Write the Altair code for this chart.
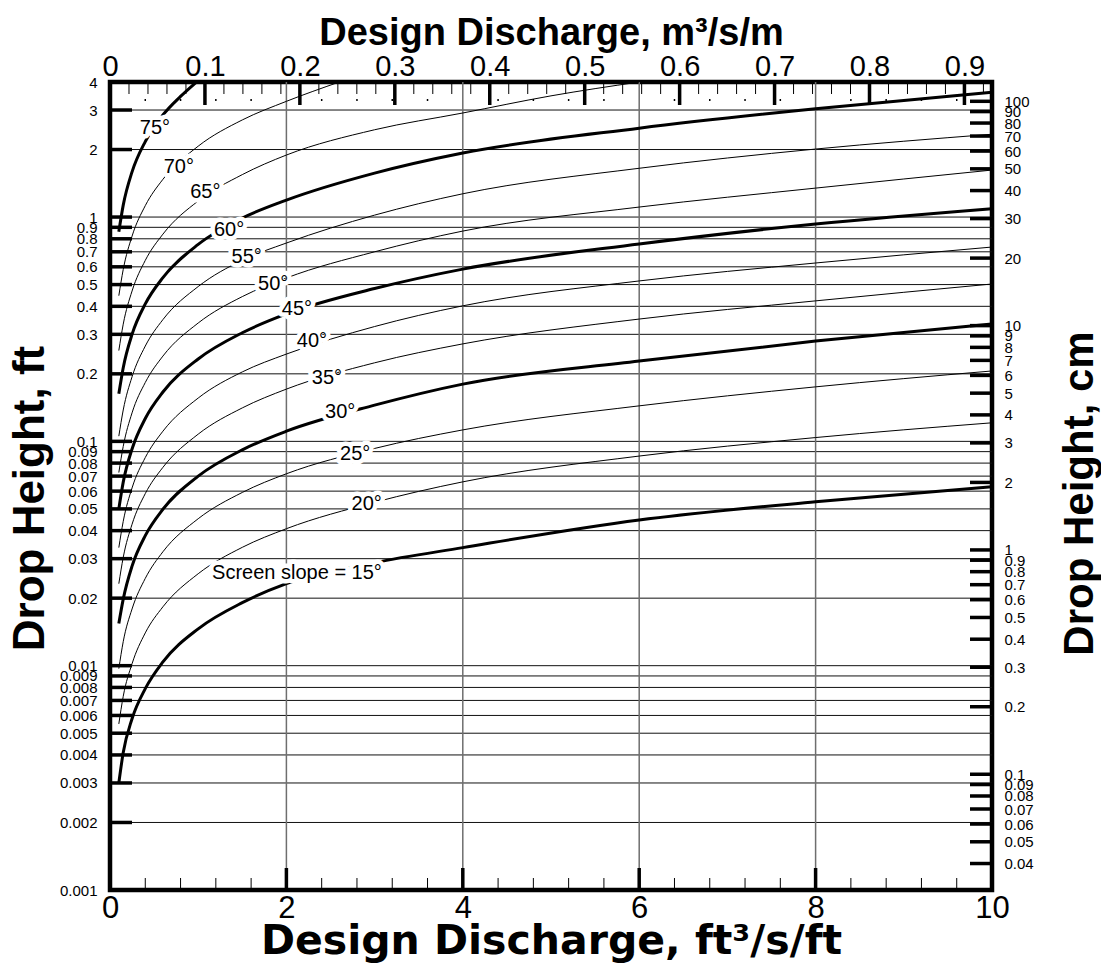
import altair as alt
import pandas as pd

# ---------------- data ----------------
# design discharge, ft^3/s/ft
Q_COMMON = [0.1, 0.15, 0.25, 0.4, 0.6, 1.0, 1.5, 2, 3, 4, 6, 8, 10]
H15 = [0.0030, 0.0041, 0.0058, 0.0079, 0.0104, 0.0146, 0.0191, 0.0232, 0.0288, 0.0336, 0.0446, 0.0538, 0.0627]
H20 = [0.0055, 0.0073, 0.0102, 0.0140, 0.0183, 0.0257, 0.0337, 0.0408, 0.0535, 0.066, 0.086, 0.104, 0.121]
H25 = [0.0097, 0.0128, 0.0179, 0.0245, 0.0322, 0.0452, 0.0592, 0.0717, 0.093, 0.1125, 0.144, 0.175, 0.206]
H30 = [0.0154, 0.0198, 0.0278, 0.038, 0.0498, 0.070, 0.0917, 0.111, 0.145, 0.180, 0.228, 0.280, 0.334]
H35 = [0.0232, 0.0304, 0.0427, 0.0585, 0.0766, 0.1077, 0.141, 0.171, 0.224, 0.272, 0.351, 0.423, 0.503]
H40 = [0.0336, 0.044, 0.062, 0.0847, 0.111, 0.156, 0.204, 0.245, 0.325, 0.402, 0.519, 0.624, 0.735]
H45 = [0.050, 0.0658, 0.0925, 0.1265, 0.166, 0.233, 0.305, 0.370, 0.480, 0.586, 0.758, 0.931, 1.09]
H50 = [0.0726, 0.095, 0.134, 0.183, 0.240, 0.337, 0.442, 0.535, 0.70, 0.866, 1.108, 1.346, 1.62]
H55 = [0.1055, 0.138, 0.194, 0.266, 0.349, 0.49, 0.642, 0.766, 1.02, 1.27, 1.65, 2.01, 2.34]
H60 = [0.163, 0.213, 0.30, 0.41, 0.537, 0.755, 0.99, 1.19, 1.57, 1.93, 2.49, 3.04, 3.60]
Q65 = [0.1, 0.15, 0.25, 0.4, 0.6, 1.0, 1.5, 2, 3, 4, 5, 6.0]
H65 = [0.254, 0.333, 0.468, 0.641, 0.839, 1.18, 1.546, 1.89, 2.45, 2.91, 3.47, 4.0]
Q70 = [0.1, 0.15, 0.25, 0.4, 0.6, 1.0, 1.5, 2, 2.6]
H70 = [0.446, 0.584, 0.822, 1.124, 1.473, 2.07, 2.71, 3.28, 4.0]
Q75 = [0.1, 0.15, 0.25, 0.4, 0.6, 0.8, 0.98]
H75 = [0.86, 1.13, 1.59, 2.17, 2.85, 3.45, 4.0]

THICK_ANGLES = [15, 30, 45, 60, 75]

LABEL_TEXT = ["75°", "70°", "65°", "60°", "55°", "50°", "45°", "40°", "35°", "30°", "25°", "20°",
              "Screen slope = 15°"]
LABEL_Q = [0.51, 0.78, 1.08, 1.35, 1.55, 1.85, 2.12, 2.29, 2.46, 2.61, 2.78, 2.91, 2.12]
LABEL_H = [2.49, 1.68, 1.29, 0.88, 0.661, 0.501, 0.388, 0.279, 0.191, 0.135, 0.0875, 0.0524, 0.0258]

X_LABELS = [0, 2, 4, 6, 8, 10]
V_GRID = [2, 4, 6, 8]
X_MINOR = [0.4, 0.8, 1.2, 1.6, 2.4, 2.8, 3.2, 3.6, 4.4, 4.8, 5.2, 5.6,
           6.4, 6.8, 7.2, 7.6, 8.4, 8.8, 9.2, 9.6]

LEFT_LABELS = [0.001, 0.002, 0.003, 0.004, 0.005, 0.006, 0.007, 0.008, 0.009,
               0.01, 0.02, 0.03, 0.04, 0.05, 0.06, 0.07, 0.08, 0.09,
               0.1, 0.2, 0.3, 0.4, 0.5, 0.6, 0.7, 0.8, 0.9, 1, 2, 3, 4]
H_GRID = [0.002, 0.003, 0.004, 0.005, 0.006, 0.007, 0.008, 0.009,
          0.01, 0.02, 0.03, 0.04, 0.05, 0.06, 0.07, 0.08, 0.09,
          0.1, 0.2, 0.3, 0.4, 0.5, 0.6, 0.7, 0.8, 0.9, 1, 2, 3]

RIGHT_LABELS = [0.04, 0.05, 0.06, 0.07, 0.08, 0.09,
                0.1, 0.2, 0.3, 0.4, 0.5, 0.6, 0.7, 0.8, 0.9,
                1, 2, 3, 4, 5, 6, 7, 8, 9,
                10, 20, 30, 40, 50, 60, 70, 80, 90, 100]

TOP_LABELS = [0, 0.1, 0.2, 0.3, 0.4, 0.5, 0.6, 0.7, 0.8, 0.9]
TOP_MAJOR = [0.1, 0.2, 0.3, 0.4, 0.5, 0.6, 0.7, 0.8, 0.9]
TOP_MINOR = [0.02, 0.04, 0.06, 0.08, 0.12, 0.14, 0.16, 0.18, 0.22, 0.24, 0.26, 0.28,
             0.32, 0.34, 0.36, 0.38, 0.42, 0.44, 0.46, 0.48, 0.52, 0.54, 0.56, 0.58,
             0.62, 0.64, 0.66, 0.68, 0.72, 0.74, 0.76, 0.78, 0.82, 0.84, 0.86, 0.88, 0.92]

FT_TO_CM = 30.48
FT2_TO_M2 = 0.09290304
X_DOMAIN = [0, 10]
Y_DOMAIN = [0.001, 4]

# ---------------- tables ----------------
curves = [(15, Q_COMMON, H15), (20, Q_COMMON, H20), (25, Q_COMMON, H25), (30, Q_COMMON, H30),
          (35, Q_COMMON, H35), (40, Q_COMMON, H40), (45, Q_COMMON, H45), (50, Q_COMMON, H50),
          (55, Q_COMMON, H55), (60, Q_COMMON, H60), (65, Q65, H65), (70, Q70, H70), (75, Q75, H75)]
rows = []
for ang, qs, hs in curves:
    for i, (q, h) in enumerate(zip(qs, hs)):
        rows.append({"angle": ang, "q": q, "h": h, "order": i, "thick": ang in THICK_ANGLES})
df = pd.DataFrame(rows)
df_thick = df[df["thick"]]
df_thin = df[~df["thick"]]

lab_df = pd.DataFrame({"q": LABEL_Q, "h": LABEL_H, "text": LABEL_TEXT})
hgrid_df = pd.DataFrame({"h": H_GRID})
vgrid_df = pd.DataFrame({"q": V_GRID})
lefttick_df = pd.DataFrame({"h": H_GRID})
xmaj_df = pd.DataFrame({"q": V_GRID})
xmin_df = pd.DataFrame({"q": X_MINOR})
cm_df = pd.DataFrame({"cm": RIGHT_LABELS})
mmaj_df = pd.DataFrame({"m": TOP_MAJOR})
mmin_df = pd.DataFrame({"m": TOP_MINOR})

W, H = 882, 808
FONT = "Liberation Sans"

xs = alt.Scale(domain=X_DOMAIN, nice=False, zero=False)
ys = alt.Scale(type="log", domain=Y_DOMAIN, nice=False)
cms = alt.Scale(type="log", domain=[Y_DOMAIN[0] * FT_TO_CM, Y_DOMAIN[1] * FT_TO_CM], nice=False)
ms = alt.Scale(domain=[0, X_DOMAIN[1] * FT2_TO_M2], nice=False, zero=False)

x_axis = alt.Axis(orient="bottom", values=X_LABELS, format="d", labelFontSize=31,
                  labelPadding=27, labelBaseline="alphabetic", labelFlush=False,
                  labelOverlap=False, ticks=False, tickSize=0, domain=False, grid=False,
                  title="Design Discharge, ft³/s/ft", titleFont="DejaVu Sans",
                  titleFontSize=41, titleFontWeight="bold",
                  titleX=441, titleY=63, titleAlign="center", titleBaseline="alphabetic")
y_axis = alt.Axis(orient="left", values=LEFT_LABELS, format="~g", labelFontSize=15,
                  labelPadding=13, labelFlush=False, labelOverlap=False, ticks=False,
                  tickSize=0, domain=False, grid=False,
                  title="Drop Height, ft", titleFontSize=44, titleFontWeight="bold",
                  titleAngle=270, titleX=-67, titleY=416, titleAlign="center",
                  titleBaseline="alphabetic")
cm_axis = alt.Axis(orient="right", values=RIGHT_LABELS, format="~g", labelFontSize=15,
                   labelPadding=12, labelFlush=False, labelOverlap=False, ticks=False,
                   tickSize=0, domain=False, grid=False,
                   title="Drop Height, cm", titleFontSize=42, titleFontWeight="bold",
                   titleAngle=270, titleX=100, titleY=411, titleAlign="center",
                   titleBaseline="alphabetic")
m_axis = alt.Axis(orient="top", values=TOP_LABELS, format="~g", labelFontSize=29,
                  labelPadding=1, labelFlush=False, labelOverlap=False, ticks=False,
                  tickSize=0, domain=False, grid=False,
                  title="Design Discharge, m³/s/m", titleFontSize=38, titleFontWeight="bold",
                  titleX=441, titleY=-38, titleAlign="center", titleBaseline="alphabetic")

X = alt.X("q:Q", scale=xs, axis=x_axis)
Y = alt.Y("h:Q", scale=ys, axis=y_axis)

hgrid = alt.Chart(hgrid_df).mark_rule(color="#111", strokeWidth=1).encode(y=Y)
vgrid = alt.Chart(vgrid_df).mark_rule(color="#6e6e6e", strokeWidth=1.5).encode(x=X)

thin = alt.Chart(df_thin).mark_line(color="black", strokeWidth=1, interpolate="monotone").encode(
    x=X, y=Y, detail="angle:N", order="order:Q")
thick = alt.Chart(df_thick).mark_line(color="black", strokeWidth=3, interpolate="monotone").encode(
    x=X, y=Y, detail="angle:N", order="order:Q")

halo = alt.Chart(lab_df).mark_text(fontSize=20, font=FONT, color="white", stroke="white",
                                   strokeWidth=9, strokeJoin="round", align="center",
                                   baseline="middle").encode(x=X, y=Y, text="text:N")
labels = alt.Chart(lab_df).mark_text(fontSize=20, font=FONT, color="black", align="center",
                                     baseline="middle").encode(x=X, y=Y, text="text:N")

left_ticks = alt.Chart(lefttick_df).mark_rule(color="black", strokeWidth=3.5).encode(
    y=Y, x=alt.value(0), x2=alt.value(22))
bot_major = alt.Chart(xmaj_df).mark_rule(color="black", strokeWidth=3.5).encode(
    x=X, y=alt.value(H), y2=alt.value(H - 22))
bot_minor = alt.Chart(xmin_df).mark_rule(color="black", strokeWidth=1).encode(
    x=X, y=alt.value(H), y2=alt.value(H - 12))
top_dots = alt.Chart(xmin_df).mark_rule(color="black", strokeWidth=1.5).encode(
    x=X, y=alt.value(17), y2=alt.value(19))

ft_layer = alt.layer(hgrid, vgrid, thin, thick, halo, labels, left_ticks, bot_major,
                     bot_minor, top_dots)

cm_layer = alt.Chart(cm_df).mark_rule(color="black", strokeWidth=3.5).encode(
    y=alt.Y("cm:Q", scale=cms, axis=cm_axis), x=alt.value(W), x2=alt.value(W - 22))

M = alt.X("m:Q", scale=ms, axis=m_axis)
m_major = alt.Chart(mmaj_df).mark_rule(color="black", strokeWidth=3.5).encode(
    x=M, y=alt.value(0), y2=alt.value(23))
m_minor = alt.Chart(mmin_df).mark_rule(color="black", strokeWidth=1).encode(
    x=M, y=alt.value(0), y2=alt.value(12))
m_layer = alt.layer(m_major, m_minor)

chart = alt.layer(ft_layer, cm_layer, m_layer).resolve_scale(
    x="independent", y="independent"
).properties(
    width=W, height=H,
    padding={"left": 110, "top": 82, "right": 109, "bottom": 75},
    autosize=alt.AutoSizeParams(type="none"),
    background="white",
).configure_view(
    stroke="black", strokeWidth=4.5
).configure_axis(
    labelFont=FONT, titleFont=FONT, labelColor="black", titleColor="black"
).configure_text(font=FONT)

chart.save("out.html", embed_options={"renderer": "svg", "actions": False})
